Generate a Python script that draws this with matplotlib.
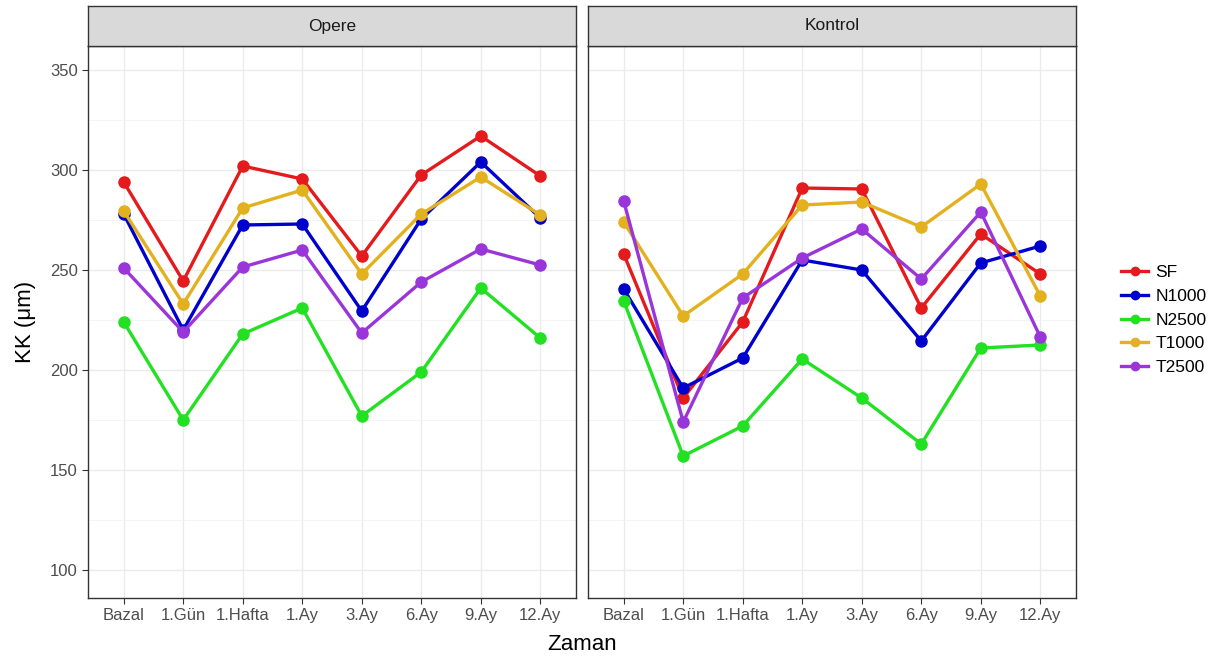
import matplotlib
matplotlib.use("Agg")
import matplotlib.pyplot as plt
from matplotlib.lines import Line2D

plt.rcParams['font.family'] = ['Liberation Sans', 'DejaVu Sans']

zaman = ["Bazal", "1.Gün", "1.Hafta", "1.Ay", "3.Ay", "6.Ay", "9.Ay", "12.Ay"]
gruplar = ["SF", "N1000", "N2500", "T1000", "T2500"]
renkler = ["#E41A1C", "#0000CD", "#22E022", "#E3B01E", "#9A35DA"]

# Opere
opere_SF = [294, 244.5, 302, 295.5, 257, 297.5, 317, 297]
opere_N1000 = [278, 220, 272.5, 273, 229.5, 275.5, 304, 276]
opere_N2500 = [224, 175, 218, 231, 177, 199, 241, 216]
opere_T1000 = [279.5, 233, 281, 290, 248, 278, 296.5, 277.5]
opere_T2500 = [251, 219, 251.5, 260, 218.5, 244, 260.5, 252.5]

# Kontrol
kontrol_SF = [258, 186, 224, 291, 290.5, 231, 268, 248]
kontrol_N1000 = [240.5, 191, 206, 255, 250, 214.5, 253.5, 262]
kontrol_N2500 = [234.5, 157, 172, 205.5, 186, 163, 211, 212.5]
kontrol_T1000 = [274, 227, 248, 282.5, 284, 271.5, 293, 237]
kontrol_T2500 = [284.5, 174, 236, 256, 270.5, 245.5, 279, 216.5]

paneller = [("Opere", [opere_SF, opere_N1000, opere_N2500, opere_T1000, opere_T2500]),
            ("Kontrol", [kontrol_SF, kontrol_N1000, kontrol_N2500, kontrol_T1000, kontrol_T2500])]

fig = plt.figure(figsize=(12.3, 6.64), dpi=100)
lefts = [88 / 1230, 588 / 1230]
w = 488 / 1230
bottom = 1 - 598 / 664
h = (598 - 46) / 664
sh = 40 / 664

x = list(range(len(zaman)))
for i, (baslik, seriler) in enumerate(paneller):
    ax = fig.add_axes([lefts[i], bottom, w, h])
    for ys, c in zip(seriler, renkler):
        ax.plot(x, ys, color=c, lw=2.4, marker='o', ms=8, zorder=3)
    ax.set_xlim(-0.6, len(zaman) - 0.4)
    ax.set_ylim(86, 362)
    ax.set_xticks(x)
    ax.set_xticklabels(zaman)
    ax.set_yticks([100, 150, 200, 250, 300, 350])
    ax.set_yticks([125, 175, 225, 275, 325], minor=True)
    ax.grid(True, which='major', color='#EBEBEB', lw=1.0, zorder=0)
    ax.grid(True, which='minor', axis='y', color='#F3F3F3', lw=0.6, zorder=0)
    ax.tick_params(axis='both', colors='#333333', labelcolor='#4D4D4D', labelsize=12, length=4, width=0.8)
    ax.tick_params(axis='both', which='minor', length=0)
    for s in ax.spines.values():
        s.set_color('#333333')
        s.set_linewidth(1.0)
    if i == 1:
        ax.set_yticklabels([])
        ax.tick_params(axis='y', length=0)
    # strip
    sax = fig.add_axes([lefts[i], bottom + h, w, sh])
    sax.set_facecolor('#D9D9D9')
    sax.set_xticks([])
    sax.set_yticks([])
    for s in sax.spines.values():
        s.set_color('#333333')
        s.set_linewidth(1.0)
    sax.text(0.5, 0.5, baslik, ha='center', va='center', fontsize=12.5, color='#1A1A1A', transform=sax.transAxes)

fig.text(25 / 1230, 1 - 322 / 664, "KK (\u03bcm)", rotation=90, ha='center', va='center', fontsize=16)
fig.text(582 / 1230, 1 - 645 / 664, "Zaman", ha='center', va='center', fontsize=16)

handles = [Line2D([0], [0], color=c, lw=2.4, marker='o', ms=6) for c in renkler]
fig.legend(handles, gruplar, loc='center left', bbox_to_anchor=(1105 / 1230, 1 - 320 / 664),
           frameon=False, fontsize=12.5, handlelength=1.6, handletextpad=0.4, labelspacing=0.5)

fig.savefig("out.png", dpi=100)
